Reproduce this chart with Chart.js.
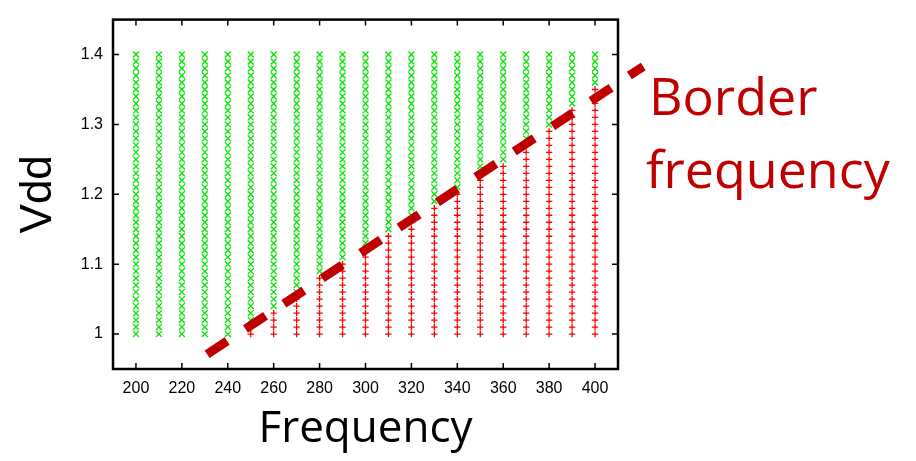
<!DOCTYPE html>
<html>
<head>
<meta charset="utf-8">
<script src="https://cdn.jsdelivr.net/npm/chart.js@4.4.1/dist/chart.umd.min.js"></script>
<style>
  html, body { margin: 0; padding: 0; background: #fff; }
  #wrap { width: 916px; height: 461px; }
</style>
</head>
<body>
<div id="wrap"><canvas id="chart" width="916" height="461"></canvas></div>
<script>
// sweep grid
const frequencies = [200, 210, 220, 230, 240, 250, 260, 270, 280, 290, 300,
  310, 320, 330, 340, 350, 360, 370, 380, 390, 400];
const vddLevels = [1.00, 1.01, 1.02, 1.03, 1.04, 1.05, 1.06, 1.07, 1.08, 1.09,
  1.10, 1.11, 1.12, 1.13, 1.14, 1.15, 1.16, 1.17, 1.18, 1.19,
  1.20, 1.21, 1.22, 1.23, 1.24, 1.25, 1.26, 1.27, 1.28, 1.29,
  1.30, 1.31, 1.32, 1.33, 1.34, 1.35, 1.36, 1.37, 1.38, 1.39, 1.40];
// highest Vdd that still fails at each frequency (null = nothing fails)
const failUpTo = [null, null, null, null, null, 1.01, 1.03, 1.05, 1.08, 1.10, 1.12,
  1.14, 1.16, 1.18, 1.20, 1.23, 1.24, 1.27, 1.29, 1.32, 1.35];

// hand drawn border line
const borderX = [231, 421];
const borderY = [0.971, 1.383];

const xTicks = [200, 220, 240, 260, 280, 300, 320, 340, 360, 380, 400];
const yTicks = [1, 1.1, 1.2, 1.3, 1.4];

const passPoints = [];
const failPoints = [];
frequencies.forEach((f, i) => {
  vddLevels.forEach(v => {
    const lim = failUpTo[i];
    if (lim !== null && v <= lim + 1e-9) failPoints.push({ x: f, y: v });
    else passPoints.push({ x: f, y: v });
  });
});
const borderLine = borderX.map((x, i) => ({ x: x, y: borderY[i] }));

const darkRed = "#c00000";

const framePlugin = {
  id: "frame",
  afterDatasetsDraw(chart) {
    const { ctx, chartArea: a, scales } = chart;
    ctx.save();
    ctx.strokeStyle = "#000";
    ctx.lineWidth = 1.5;
    ctx.beginPath();
    xTicks.forEach(t => {
      const px = scales.x.getPixelForValue(t);
      ctx.moveTo(px, a.bottom); ctx.lineTo(px, a.bottom - 6);
      ctx.moveTo(px, a.top); ctx.lineTo(px, a.top + 6);
    });
    yTicks.forEach(t => {
      const py = scales.y.getPixelForValue(t);
      ctx.moveTo(a.left, py); ctx.lineTo(a.left + 6, py);
      ctx.moveTo(a.right, py); ctx.lineTo(a.right - 6, py);
    });
    ctx.stroke();
    ctx.lineWidth = 2.5;
    ctx.strokeRect(a.left, a.top, a.right - a.left, a.bottom - a.top);

    ctx.fillStyle = darkRed;
    ctx.font = "52px 'Open Sans'";
    ctx.textAlign = "left";
    ctx.textBaseline = "alphabetic";
    ctx.fillText("Border", 649, 115);
    ctx.fillText("frequency", 646, 188);
    ctx.restore();
  }
};

const ctx = document.getElementById("chart").getContext("2d");
new Chart(ctx, {
  type: "scatter",
  data: {
    datasets: [
      {
        label: "border",
        type: "line",
        data: borderLine,
        borderColor: darkRed,
        borderWidth: 9,
        borderDash: [24, 22],
        borderCapStyle: "butt",
        pointRadius: 0,
        fill: false,
        clip: false,
        order: 0,
      },
      {
        label: "pass",
        data: passPoints,
        pointStyle: "crossRot",
        pointRadius: 4.2,
        borderColor: "#00e600",
        backgroundColor: "#00e600",
        pointBorderWidth: 1.3,
        order: 1,
      },
      {
        label: "fail",
        data: failPoints,
        pointStyle: "cross",
        pointRadius: 3.2,
        borderColor: "#ff0000",
        backgroundColor: "#ff0000",
        pointBorderWidth: 1.3,
        order: 2,
      },
    ],
  },
  options: {
    responsive: false,
    animation: false,
    events: [],
    layout: { padding: { top: 10, right: 298, left: 0, bottom: 0 } },
    plugins: { legend: { display: false }, tooltip: { enabled: false } },
    scales: {
      x: {
        type: "linear",
        min: 190,
        max: 410,
        grid: { display: false, drawTicks: false },
        border: { display: false },
        afterBuildTicks: s => { s.ticks = xTicks.map(v => ({ value: v })); },
        afterFit: s => { s.height = 92; },
        ticks: {
          color: "#000",
          padding: 10,
          maxRotation: 0,
          font: { family: "'Liberation Sans', Arial, sans-serif", size: 16 },
        },
        title: {
          display: true,
          text: "Frequency",
          color: "#000",
          font: { family: "'Open Sans', sans-serif", size: 44, lineHeight: 1.2 },
          padding: { top: 0, bottom: 5 },
        },
      },
      y: {
        type: "linear",
        min: 0.95,
        max: 1.45,
        grid: { display: false, drawTicks: false },
        border: { display: false },
        afterBuildTicks: s => { s.ticks = yTicks.map(v => ({ value: v })); },
        afterFit: s => { s.width = 113; },
        ticks: {
          color: "#000",
          padding: 10,
          font: { family: "'Liberation Sans', Arial, sans-serif", size: 16 },
          callback: v => String(Number(v.toFixed(2))),
        },
        title: {
          display: true,
          text: "Vdd",
          color: "#000",
          font: { family: "'Liberation Sans', Arial, sans-serif", size: 44, lineHeight: 1.2 },
          padding: { top: 12, bottom: 0 },
        },
      },
    },
  },
  plugins: [framePlugin],
});
</script>
</body>
</html>
